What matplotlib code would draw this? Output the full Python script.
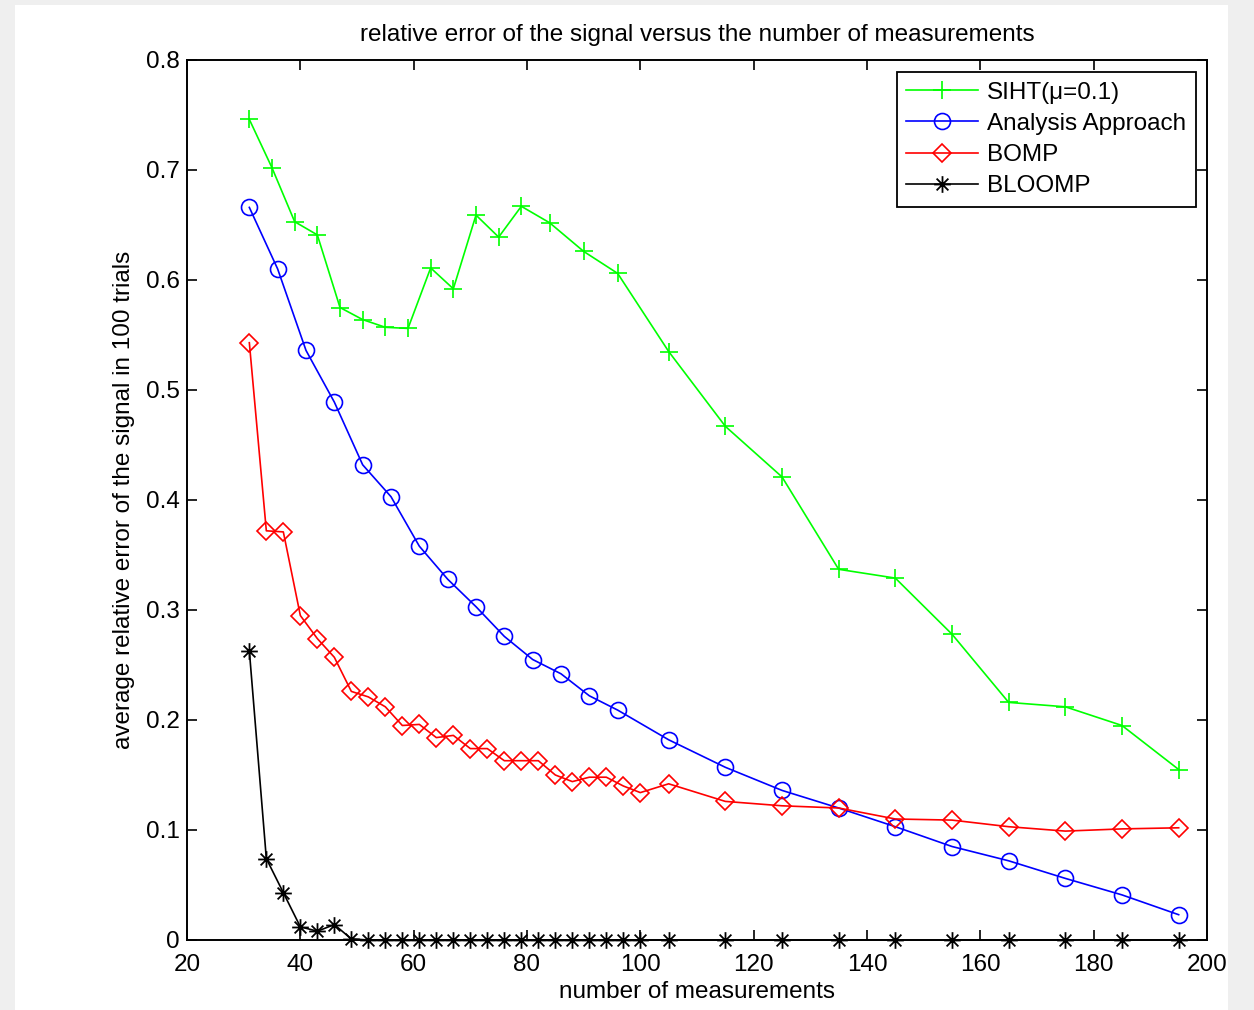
import matplotlib
matplotlib.use("Agg")
import matplotlib.pyplot as plt
import numpy as np
from matplotlib.path import Path
from matplotlib.patches import Rectangle

plt.rcParams['font.family'] = ['Liberation Sans', 'DejaVu Sans']

# measurement counts
x_fine = [31, 34, 37, 40, 43, 46, 49, 52, 55, 58, 61, 64, 67, 70, 73, 76,
          79, 82, 85, 88, 91, 94, 97, 100]
x_coarse = [105, 115, 125, 135, 145, 155, 165, 175, 185, 195]
x_siht = [31, 35, 39, 43, 47, 51, 55, 59, 63, 67, 71, 75, 79, 84, 90, 96]
x_analysis = [31, 36, 41, 46, 51, 56, 61, 66, 71, 76, 81, 86, 91, 96]

# average relative errors
siht = [0.746, 0.702, 0.653, 0.641, 0.575, 0.564, 0.557, 0.556, 0.611, 0.592,
        0.659, 0.639, 0.667, 0.652, 0.626, 0.606,
        0.535, 0.467, 0.421, 0.337, 0.329, 0.278, 0.216, 0.212, 0.195, 0.155]
analysis = [0.666, 0.610, 0.536, 0.489, 0.432, 0.403, 0.358, 0.328, 0.303,
            0.276, 0.255, 0.242, 0.222, 0.209,
            0.182, 0.157, 0.136, 0.120, 0.103, 0.085, 0.072, 0.056, 0.041, 0.023]
bomp = [0.543, 0.372, 0.371, 0.295, 0.274, 0.257, 0.226, 0.221, 0.212, 0.195,
        0.196, 0.184, 0.186, 0.174, 0.174, 0.163, 0.163, 0.163, 0.150, 0.144,
        0.148, 0.148, 0.140, 0.134,
        0.142, 0.126, 0.122, 0.120, 0.110, 0.109, 0.103, 0.099, 0.101, 0.102]
bloomp = [0.263, 0.074, 0.043, 0.012, 0.008, 0.014, 0.001, 0.0, 0.0, 0.0,
          0.0, 0.0, 0.0, 0.0, 0.0, 0.0, 0.0, 0.0, 0.0, 0.0, 0.0, 0.0, 0.0, 0.0,
          0.0, 0.0, 0.0, 0.0, 0.0, 0.0, 0.0, 0.0, 0.0, 0.0]

xticks = [20, 40, 60, 80, 100, 120, 140, 160, 180, 200]
yticks = [0, 0.1, 0.2, 0.3, 0.4, 0.5, 0.6, 0.7, 0.8]
ytick_labels = ['0', '0.1', '0.2', '0.3', '0.4', '0.5', '0.6', '0.7', '0.8']

# matlab style asterisk: 8 spokes
verts, codes = [], []
for a in np.arange(0, 180, 45):
    r = np.deg2rad(a)
    verts += [(np.cos(r), np.sin(r)), (-np.cos(r), -np.sin(r))]
    codes += [Path.MOVETO, Path.LINETO]
asterisk = Path(verts, codes)

fig = plt.figure(figsize=(12.54, 10.10), dpi=100, facecolor='#efefef')
fig.patches.append(Rectangle((15 / 1254, 0), 1213 / 1254, 1005 / 1010,
                             transform=fig.transFigure, facecolor='white',
                             edgecolor='none', zorder=-5))
ax = fig.add_axes([187 / 1254, 70 / 1010, 1020 / 1254, 880 / 1010])

fs = 17.5
lw = 1.2
ax.plot(x_siht + x_coarse, siht, color='#00ff00', marker='+', markersize=13,
        markeredgewidth=lw, linewidth=lw, label='SIHT(\u03bc=0.1)')
ax.plot(x_analysis + x_coarse, analysis, color='#0000ff', marker='o',
        markersize=11.5, markerfacecolor='none', markeredgewidth=lw,
        linewidth=lw, label='Analysis Approach')
ax.plot(x_fine + x_coarse, bomp, color='#ff0000', marker='D', markersize=9,
        markerfacecolor='none', markeredgewidth=lw, linewidth=lw, label='BOMP')
ax.plot(x_fine + x_coarse, bloomp, color='black', marker=asterisk,
        markersize=12, markerfacecolor='none', markeredgewidth=1.3,
        linewidth=lw, label='BLOOMP', clip_on=False)

ax.set_xlim(20, 200)
ax.set_ylim(0, 0.8)
ax.set_xticks(xticks)
ax.set_xticklabels([str(t) for t in xticks])
ax.set_yticks(yticks)
ax.set_yticklabels(ytick_labels)
ax.tick_params(direction='in', length=7, width=1.2, top=True, right=True,
               labelsize=fs, pad=5)
ax.tick_params(axis='x', pad=10)
for s in ax.spines.values():
    s.set_linewidth(1.4)

ax.set_title('relative error of the signal versus the number of measurements',
             fontsize=fs, pad=14)
ax.set_xlabel('number of measurements', fontsize=fs, labelpad=4)
ax.set_ylabel('average relative error of the signal in 100 trials',
              fontsize=fs, labelpad=8)

leg = ax.legend(loc='upper right', bbox_to_anchor=(1196 / 1254, 1 - 72 / 1010),
                bbox_transform=fig.transFigure, borderaxespad=0, fontsize=fs,
                fancybox=False, framealpha=1, edgecolor='black',
                handlelength=2.95, handletextpad=0.37, labelspacing=0.38,
                borderpad=0.4)
leg.get_frame().set_linewidth(1.3)

fig.savefig('out.png', dpi=100, facecolor=fig.get_facecolor())
